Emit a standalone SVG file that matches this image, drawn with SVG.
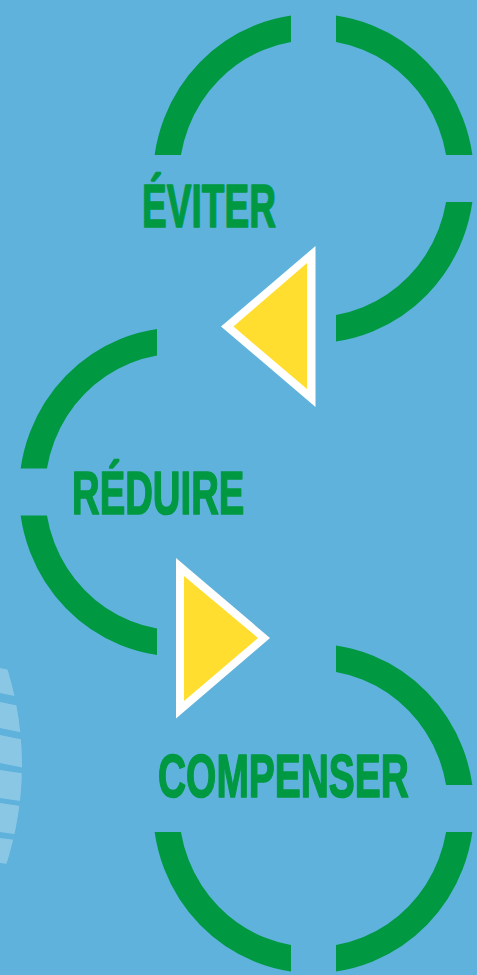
<svg xmlns="http://www.w3.org/2000/svg" width="477" height="975" viewBox="0 0 477 975">
<style>
.ring{fill:none;stroke:#009942;stroke-width:26}
.lbl{font-family:"Liberation Sans",Arial,sans-serif;font-weight:bold;font-size:62px;fill:#009942;stroke:#009942;stroke-width:1.6;stroke-linejoin:round}
.tri-o{fill:#ffffff}
.tri-i{fill:#ffde30}
.band{fill:#ffffff;fill-opacity:0.28}
</style>
<defs>
<clipPath id="qTL"><rect x="-200" y="-200" width="177.5" height="176.5"/></clipPath>
<clipPath id="qTR"><rect x="22.5" y="-200" width="177.5" height="176.5"/></clipPath>
<clipPath id="qBL"><rect x="-200" y="23.5" width="177.5" height="176.5"/></clipPath>
<clipPath id="qBR"><rect x="22.5" y="23.5" width="177.5" height="176.5"/></clipPath>
<clipPath id="globe"><circle cx="-300" cy="765" r="322"/></clipPath>
</defs>
<rect width="477" height="975" fill="#5eb2dc"/>
<g id="decor" clip-path="url(#globe)">
<polygon class="band" points="0,668 40,676 40,701 0,693"/>
<polygon class="band" points="0,702 40,710 40,736 0,728"/>
<polygon class="band" points="0,735 40,743 40,771 0,763"/>
<polygon class="band" points="0,770 40,776 40,804 0,798"/>
<polygon class="band" points="0,803 40,809 40,838 0,832"/>
<polygon class="band" points="0,838 40,843 40,868 0,863"/>
</g>
<g id="eviter">
<g transform="translate(313.5,178.5)">
<ellipse class="ring" rx="147.5" ry="151.5" clip-path="url(#qTL)"/>
<ellipse class="ring" rx="147.5" ry="151.5" clip-path="url(#qTR)"/>
<ellipse class="ring" rx="147.5" ry="151.5" clip-path="url(#qBR)"/>
</g>
<text class="lbl" transform="translate(142,226.5) scale(0.598,1)">ÉVITER</text>
</g>
<g id="reduire">
<g transform="translate(179.5,492)">
<ellipse class="ring" rx="147.5" ry="151.5" clip-path="url(#qTL)"/>
<ellipse class="ring" rx="147.5" ry="151.5" clip-path="url(#qBL)"/>
</g>
<text class="lbl" transform="translate(72,513.5) scale(0.618,1)">RÉDUIRE</text>
</g>
<g id="compenser">
<g transform="translate(313.5,808.5)">
<ellipse class="ring" rx="147.5" ry="151.5" clip-path="url(#qTR)"/>
<ellipse class="ring" rx="147.5" ry="151.5" clip-path="url(#qBL)"/>
<ellipse class="ring" rx="147.5" ry="151.5" clip-path="url(#qBR)"/>
</g>
<text class="lbl" transform="translate(158,796.5) scale(0.628,1)">COMPENSER</text>
</g>
<g id="connectors">
<polygon class="tri-o" points="221,326.5 315.5,246 315.5,407"/>
<polygon class="tri-i" points="233.5,326.5 307,263 307,389"/>
<polygon class="tri-o" points="176,558 270,638 176,718.5"/>
<polygon class="tri-i" points="184,576 258,638 184,701"/>
</g>
</svg>
